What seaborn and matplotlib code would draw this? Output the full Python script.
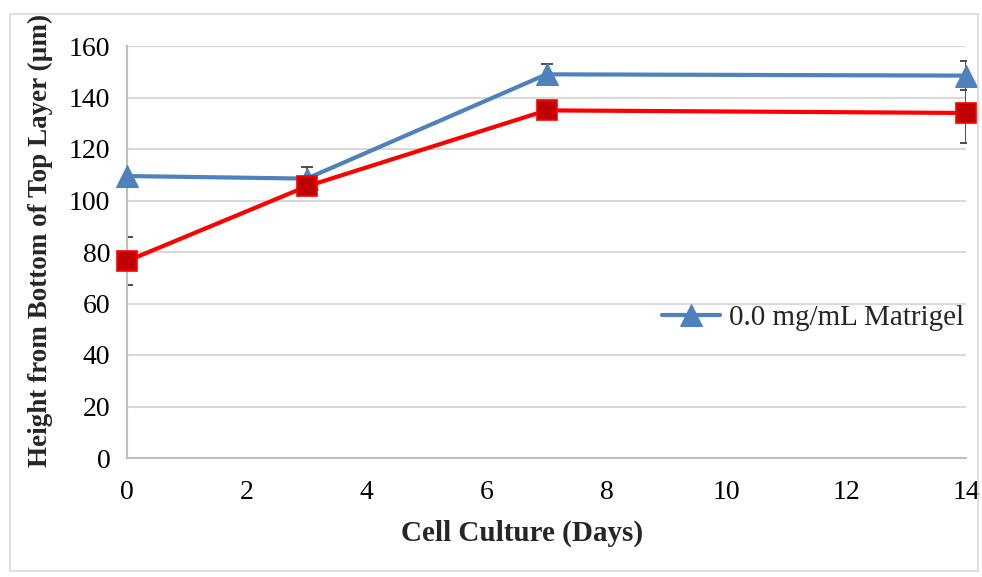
import matplotlib
matplotlib.use("Agg")
import matplotlib.pyplot as plt
import seaborn as sns
import pandas as pd
from matplotlib.patches import Rectangle

days = [0, 3, 7, 14]
blue_name = "0.0 mg/mL Matrigel"
red_name = "Other Matrigel"
blue_vals = [109.5, 108.5, 149.0, 148.5]
blue_err = [0.0, 4.5, 4.0, 5.5]
red_vals = [76.5, 105.5, 135.0, 134.0]
red_err = [9.5, 0.0, 0.0, 11.5]
x_ticks = [0, 2, 4, 6, 8, 10, 12, 14]
y_ticks = [0, 20, 40, 60, 80, 100, 120, 140, 160]

sns.set_theme(style="white")
plt.rcParams["font.family"] = ["Liberation Serif", "DejaVu Serif"]

df = pd.DataFrame({
    "day": days * 2,
    "height": blue_vals + red_vals,
    "series": [blue_name] * 4 + [red_name] * 4,
})

fig = plt.figure(figsize=(9.82, 5.77), dpi=100)
ax = fig.add_axes([127 / 982, 1 - 458 / 577, (966 - 127) / 982, (458 - 46) / 577])

# outer light frame
fig.patches.append(Rectangle((10 / 982, 6 / 577), 968 / 982, (563 - 6) / 577,
                             transform=fig.transFigure, fill=False,
                             edgecolor="#d9d9d9", linewidth=1.2, zorder=0))

# error bars
ax.errorbar(days, blue_vals, yerr=blue_err, fmt="none", ecolor="#404040",
            elinewidth=1.3, capsize=4, capthick=1.3, zorder=2)
ax.errorbar(days, red_vals, yerr=red_err, fmt="none", ecolor="#404040",
            elinewidth=1.3, capsize=4, capthick=1.3, zorder=2)

sns.lineplot(data=df[df.series == blue_name], x="day", y="height", ax=ax,
             color="#4F81BD", linewidth=3, marker="^", markersize=16,
             markeredgecolor="#4F81BD", markerfacecolor="#4F81BD",
             label=blue_name, zorder=3, clip_on=False)
sns.lineplot(data=df[df.series == red_name], x="day", y="height", ax=ax,
             color="#FF0000", linewidth=3, marker="s", markersize=15,
             markeredgecolor="#FF0000", markerfacecolor="#C00000",
             markeredgewidth=1.2, legend=False, zorder=4, clip_on=False)

ax.set_xlim(0, 14)
ax.set_ylim(0, 160)
ax.set_xticks(x_ticks)
ax.set_yticks(y_ticks)
ax.tick_params(axis="both", length=0, labelsize=20, colors="black")
ax.tick_params(axis="x", pad=16)
ax.tick_params(axis="y", pad=12)
ax.yaxis.grid(True, color="#d9d9d9", linewidth=1.5)
ax.xaxis.grid(False)
for s in ["top", "right"]:
    ax.spines[s].set_visible(False)
for s in ["left", "bottom"]:
    ax.spines[s].set_color("#bfbfbf")
    ax.spines[s].set_linewidth(1.5)
ax.set_xlabel("")
ax.set_ylabel("")

fig.text(522 / 982, 1 - 533 / 577, "Cell Culture (Days)", ha="center", va="center",
         fontsize=21, fontweight="bold")
fig.text(40 / 982, 1 - 467 / 577, "Height from Bottom of Top Layer (\u00b5m)",
         rotation=90, ha="center", va="bottom", fontsize=19.5, fontweight="bold")

leg = ax.legend(loc="center left", bbox_to_anchor=((650 - 127) / (966 - 127), (458 - 318) / 412),
                frameon=False, fontsize=21, handlelength=2.0, handletextpad=0.3,
                borderaxespad=0)

fig.savefig("out.png", dpi=100)
